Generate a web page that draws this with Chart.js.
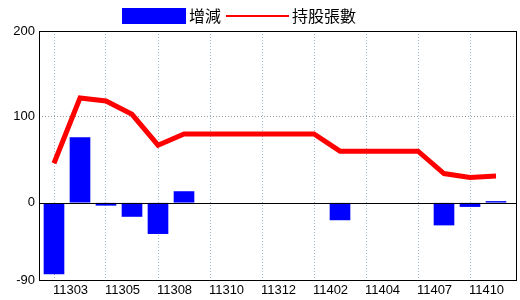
<!DOCTYPE html>
<html>
<head>
<meta charset="utf-8">
<script src="https://cdn.jsdelivr.net/npm/chart.js@4/dist/chart.umd.min.js"></script>
<style>
  html, body { margin: 0; padding: 0; background: #fff; }
  #wrap { position: relative; width: 520px; height: 300px; }
  #legend { position: absolute; top: 0; left: 0; width: 520px; height: 30px;
            font-family: "Noto Sans CJK TC", sans-serif; font-size: 16px; color: #000; }
  #legend .box { position: absolute; left: 122px; top: 8px; width: 64px; height: 16px; background: #0000ff; }
  #legend .line { position: absolute; left: 226px; top: 15px; width: 63px; height: 2px; background: #ff0000; }
  #legend .t1 { position: absolute; left: 189px; top: 4px; line-height: 22px; }
  #legend .t2 { position: absolute; left: 292px; top: 4px; line-height: 22px; }
</style>
</head>
<body>
<div id="wrap">
  <canvas id="chart" width="520" height="300"></canvas>
  <div id="legend">
    <span class="box"></span><span class="t1">增減</span>
    <span class="line"></span><span class="t2">持股張數</span>
  </div>
</div>
<script>
// months (ROC year + month)
const months = ['11302', '11303', '11304', '11305', '11307', '11308', '11309', '11310', '11311',
                '11312', '11401', '11402', '11403', '11404', '11406', '11407', '11409', '11410'];
// monthly change
const changes = [-83, 76, -3, -16, -36, 13, 0, 0, 0, 0, 0, -20, 0, 0, 0, -26, -4.5, 1.5];
// holdings
const holdings = [46, 122, 118.5, 103, 67, 80, 80, 80, 80, 80, 80, 60, 60, 60, 60, 34, 29.5, 31];
const yTicks = [-90, 0, 100, 200];

const ctx = document.getElementById('chart').getContext('2d');

// box round the plot and the zero line
const framePlugin = {
    id: 'frame',
    afterDatasetsDraw(chart) {
        const { ctx, chartArea: a, scales } = chart;
        const y0 = Math.round(scales.y.getPixelForValue(0)) + 0.5;
        ctx.save();
        ctx.strokeStyle = '#000';
        ctx.lineWidth = 1;
        ctx.beginPath();
        ctx.moveTo(a.left, y0);
        ctx.lineTo(a.right, y0);
        ctx.stroke();
        ctx.strokeRect(Math.round(a.left) + 0.5, Math.round(a.top) + 0.5,
                       Math.round(a.right - a.left), Math.round(a.bottom - a.top));
        ctx.restore();
    }
};

new Chart(ctx, {
    type: 'bar',
    data: {
        datasets: [
            {
                type: 'line',
                label: '持股張數',
                data: holdings.map((v, i) => ({ x: i, y: v })),
                borderColor: '#ff0000',
                borderWidth: 5,
                pointRadius: 0,
                tension: 0,
                order: 0
            },
            {
                label: '增減',
                // no bar for a month without change
                data: changes.map((v, i) => ({ x: i, y: v === 0 ? null : v })),
                backgroundColor: '#0000ff',
                borderWidth: 0,
                barThickness: 20,
                order: 1
            }
        ]
    },
    options: {
        responsive: false,
        animation: false,
        layout: { padding: { left: 0, top: 31, right: 4, bottom: 0 } },
        plugins: {
            legend: { display: false },
            tooltip: { enabled: false }
        },
        scales: {
            x: {
                type: 'linear',
                offset: false,
                min: -15 / 26,
                max: 17 + 20 / 26,
                afterBuildTicks: (scale) => {
                    scale.ticks = [0, 2, 4, 6, 8, 10, 12, 14, 16].map(v => ({ value: v }));
                },
                afterFit: (scale) => { scale.height = 20; },
                grid: { color: '#9fb7cf', lineWidth: 1, drawTicks: false, offset: false },
                border: { display: false, dash: [1, 2] },
                ticks: {
                    autoSkip: false,
                    maxRotation: 0,
                    padding: 3,
                    labelOffset: 16.5,
                    color: '#000',
                    font: { family: 'Liberation Sans Narrow, Liberation Sans, Arial, sans-serif', size: 13 },
                    callback: (v) => months[v + 1]
                }
            },
            y: {
                min: -90,
                max: 200,
                afterBuildTicks: (scale) => {
                    scale.ticks = yTicks.map(v => ({ value: v }));
                },
                afterFit: (scale) => { scale.width = 39; },
                grid: {
                    color: (c) => (c.tick && c.tick.value === 100 ? '#999999' : 'rgba(0,0,0,0)'),
                    lineWidth: 1,
                    drawTicks: false
                },
                border: { display: false, dash: [1, 2] },
                ticks: {
                    padding: 4,
                    color: '#000',
                    font: { family: 'Liberation Sans Narrow, Liberation Sans, Arial, sans-serif', size: 13 }
                }
            }
        }
    },
    plugins: [framePlugin]
});
</script>
</body>
</html>
